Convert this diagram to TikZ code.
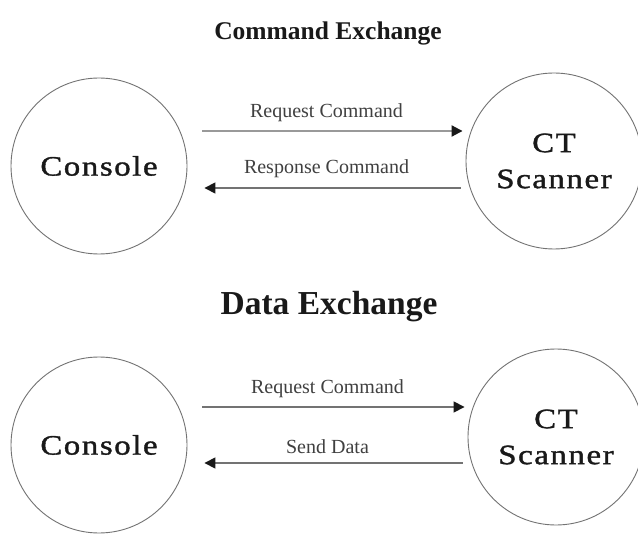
\documentclass[tikz,border=0pt]{standalone}
\usepackage{fontspec}
\setmainfont{Liberation Serif}
\newfontfamily\spaced[LetterSpace=5,FakeBold=1.2]{Liberation Serif}
\usetikzlibrary{arrows.meta}
% wide, lightly tracked lettering for the circle labels
\newcommand{\widetext}[1]{\scalebox{1.17}[1]{#1}}
\begin{document}
\begin{tikzpicture}[x=1pt,y=-1pt,
  party/.style={circle,draw=black!55,line width=0.9pt,minimum size=176pt,inner sep=0pt,
    align=center,text=black!90,font=\spaced\fontsize{28}{40}\selectfont},
  title/.style={font=\bfseries\fontsize{25.5}{30}\selectfont,text=black!90},
  msg/.style={font=\fontsize{20}{24}\selectfont,text=black!75},
  flow/.style={draw=black!55,line width=1.6pt,
    -{Triangle[length=11pt,width=11pt,color=black!90]}}]
\useasboundingbox (0,0) rectangle (638,556);
\fill[white] (0,0) rectangle (638,556);

% ---- command exchange ----
\node[title] (t1) at (328,33) {Command Exchange};
\node[party] (con1) at (99,166) {\widetext{Console}};
\node[party] (ct1) at (554,161) {\widetext{CT}\\[-4pt]\widetext{Scanner}};
\draw[flow,draw=black!40,line width=2pt,shorten <=15pt,shorten >=3pt]
  (con1.east |- 0,131) -- (ct1.west |- 0,131)
  node[msg,midway,above=5pt] (m1) {Request Command};
\draw[flow,shorten <=5pt,shorten >=17pt] (ct1.west |- 0,188) -- (con1.east |- 0,188)
  node[msg,midway,above=6pt] (m2) {Response Command};

% ---- data exchange ----
\node[title,font=\bfseries\fontsize{33.5}{38}\selectfont] (t2) at (329,307) {Data Exchange};
\node[party] (con2) at (99,445) {\widetext{Console}};
\node[party] (ct2) at (556,437) {\widetext{CT}\\[-4pt]\widetext{Scanner}};
\draw[flow,shorten <=15pt,shorten >=3pt] (con2.east |- 0,407) -- (ct2.west |- 0,407)
  node[msg,midway,above=5pt] (m3) {Request Command};
\draw[flow,shorten <=5pt,shorten >=17pt] (ct2.west |- 0,463) -- (con2.east |- 0,463)
  node[msg,midway,above=5pt] (m4) {Send Data};
\end{tikzpicture}
\end{document}
